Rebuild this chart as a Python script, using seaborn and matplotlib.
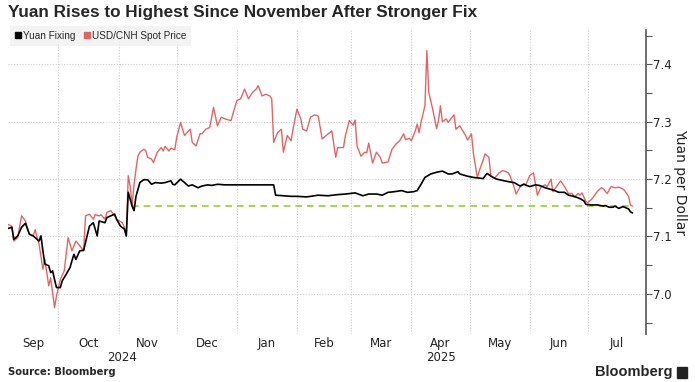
import pandas as pd
import seaborn as sns
import matplotlib.pyplot as plt
import matplotlib.dates as mdates
import matplotlib.ticker as tkr
import matplotlib.transforms as mtransforms
from matplotlib.lines import Line2D
from matplotlib.patches import Rectangle

# USD/CNH spot
spot_dates = [
    "2024-09-05", "2024-09-07", "2024-09-08", "2024-09-10", "2024-09-12", "2024-09-14",
    "2024-09-16", "2024-09-18", "2024-09-19", "2024-09-20", "2024-09-21", "2024-09-23",
    "2024-09-24", "2024-09-26", "2024-09-27", "2024-09-29", "2024-09-30", "2024-10-02",
    "2024-10-04", "2024-10-06", "2024-10-08", "2024-10-10", "2024-10-12", "2024-10-14",
    "2024-10-15", "2024-10-17", "2024-10-19", "2024-10-20", "2024-10-22", "2024-10-23",
    "2024-10-25", "2024-10-26", "2024-10-28", "2024-10-30", "2024-10-31", "2024-11-03",
    "2024-11-04", "2024-11-05", "2024-11-06", "2024-11-07", "2024-11-08", "2024-11-09",
    "2024-11-10", "2024-11-11", "2024-11-12", "2024-11-14", "2024-11-15", "2024-11-16",
    "2024-11-18", "2024-11-19", "2024-11-21", "2024-11-23", "2024-11-24", "2024-11-25",
    "2024-11-27", "2024-11-28", "2024-11-30", "2024-12-01", "2024-12-03", "2024-12-05",
    "2024-12-08", "2024-12-09", "2024-12-11", "2024-12-13", "2024-12-14", "2024-12-16",
    "2024-12-18", "2024-12-20", "2024-12-22", "2024-12-24", "2024-12-26", "2024-12-29",
    "2025-01-01", "2025-01-03", "2025-01-05", "2025-01-07", "2025-01-09", "2025-01-11",
    "2025-01-12", "2025-01-14", "2025-01-16", "2025-01-18", "2025-01-19", "2025-01-20",
    "2025-01-22", "2025-01-24", "2025-01-25", "2025-01-27", "2025-01-29", "2025-01-30",
    "2025-02-01", "2025-02-03", "2025-02-04", "2025-02-06", "2025-02-08", "2025-02-10",
    "2025-02-12", "2025-02-14", "2025-02-16", "2025-02-19", "2025-02-21", "2025-02-22",
    "2025-02-25", "2025-02-26", "2025-02-28", "2025-03-02", "2025-03-03", "2025-03-04",
    "2025-03-06", "2025-03-08", "2025-03-09", "2025-03-10", "2025-03-12", "2025-03-14",
    "2025-03-16", "2025-03-17", "2025-03-20", "2025-03-22", "2025-03-24", "2025-03-26",
    "2025-03-28", "2025-03-29", "2025-03-31", "2025-04-01", "2025-04-03", "2025-04-04",
    "2025-04-05", "2025-04-06", "2025-04-08", "2025-04-09", "2025-04-10", "2025-04-12",
    "2025-04-14", "2025-04-15", "2025-04-16", "2025-04-17", "2025-04-19", "2025-04-20",
    "2025-04-22", "2025-04-23", "2025-04-24", "2025-04-26", "2025-04-27", "2025-04-29",
    "2025-04-30", "2025-05-02", "2025-05-03", "2025-05-05", "2025-05-06", "2025-05-08",
    "2025-05-09", "2025-05-11", "2025-05-12", "2025-05-14", "2025-05-16", "2025-05-18",
    "2025-05-19", "2025-05-21", "2025-05-22", "2025-05-24", "2025-05-25", "2025-05-27",
    "2025-05-29", "2025-05-30", "2025-06-01", "2025-06-03", "2025-06-05", "2025-06-07",
    "2025-06-09", "2025-06-10", "2025-06-12", "2025-06-13", "2025-06-15", "2025-06-17",
    "2025-06-19", "2025-06-21", "2025-06-23", "2025-06-24", "2025-06-26", "2025-06-27",
    "2025-06-28", "2025-06-30", "2025-07-01", "2025-07-03", "2025-07-06", "2025-07-08",
    "2025-07-09", "2025-07-11", "2025-07-13", "2025-07-15", "2025-07-17", "2025-07-19",
    "2025-07-20", "2025-07-22", "2025-07-23", "2025-07-24",
]
spot_values = [
    7.121, 7.118, 7.092, 7.098, 7.136, 7.127,
    7.104, 7.101, 7.112, 7.098, 7.087, 7.043,
    7.060, 7.014, 7.028, 6.976, 6.996, 7.025,
    7.040, 7.098, 7.075, 7.092, 7.084, 7.075,
    7.136, 7.139, 7.130, 7.138, 7.136, 7.138,
    7.130, 7.142, 7.145, 7.136, 7.130, 7.124,
    7.116, 7.101, 7.206, 7.188, 7.153, 7.191,
    7.217, 7.240, 7.247, 7.252, 7.250, 7.238,
    7.235, 7.229, 7.247, 7.255, 7.249, 7.257,
    7.249, 7.254, 7.251, 7.273, 7.299, 7.276,
    7.287, 7.264, 7.258, 7.279, 7.279, 7.287,
    7.290, 7.325, 7.293, 7.308, 7.305, 7.302,
    7.337, 7.340, 7.357, 7.340, 7.351, 7.357,
    7.363, 7.345, 7.348, 7.345, 7.340, 7.264,
    7.281, 7.287, 7.247, 7.276, 7.267, 7.287,
    7.322, 7.305, 7.287, 7.284, 7.308, 7.312,
    7.310, 7.270, 7.276, 7.284, 7.238, 7.255,
    7.255, 7.276, 7.302, 7.294, 7.303, 7.258,
    7.240, 7.247, 7.246, 7.263, 7.228, 7.247,
    7.238, 7.228, 7.230, 7.252, 7.261, 7.267,
    7.279, 7.269, 7.271, 7.267, 7.284, 7.296,
    7.281, 7.299, 7.328, 7.424, 7.351, 7.322,
    7.288, 7.302, 7.328, 7.300, 7.305, 7.299,
    7.308, 7.312, 7.287, 7.293, 7.287, 7.276,
    7.268, 7.279, 7.245, 7.203, 7.214, 7.233,
    7.244, 7.238, 7.206, 7.202, 7.210, 7.215,
    7.214, 7.211, 7.205, 7.186, 7.174, 7.186,
    7.192, 7.190, 7.206, 7.211, 7.172, 7.187,
    7.190, 7.187, 7.200, 7.178, 7.188, 7.197,
    7.187, 7.175, 7.175, 7.168, 7.175, 7.172,
    7.176, 7.161, 7.159, 7.165, 7.179, 7.185,
    7.183, 7.175, 7.187, 7.185, 7.186, 7.183,
    7.180, 7.170, 7.155, 7.153,
]

# PBOC yuan fixing
fix_dates = [
    "2024-09-05", "2024-09-07", "2024-09-08", "2024-09-10", "2024-09-12", "2024-09-14",
    "2024-09-16", "2024-09-18", "2024-09-20", "2024-09-21", "2024-09-22", "2024-09-23",
    "2024-09-24", "2024-09-26", "2024-09-27", "2024-09-28", "2024-09-29", "2024-09-30",
    "2024-10-02", "2024-10-03", "2024-10-05", "2024-10-07", "2024-10-08", "2024-10-09",
    "2024-10-10", "2024-10-12", "2024-10-14", "2024-10-15", "2024-10-17", "2024-10-19",
    "2024-10-21", "2024-10-22", "2024-10-25", "2024-10-26", "2024-10-28", "2024-10-30",
    "2024-10-31", "2024-11-02", "2024-11-04", "2024-11-05", "2024-11-06", "2024-11-08",
    "2024-11-09", "2024-11-10", "2024-11-12", "2024-11-14", "2024-11-16", "2024-11-18",
    "2024-11-20", "2024-11-23", "2024-11-25", "2024-11-28", "2024-11-29", "2024-11-30",
    "2024-12-03", "2024-12-05", "2024-12-07", "2024-12-09", "2024-12-12", "2024-12-14",
    "2024-12-17", "2024-12-19", "2024-12-22", "2024-12-26", "2024-12-31", "2025-01-05",
    "2025-01-09", "2025-01-12", "2025-01-16", "2025-01-20", "2025-01-21", "2025-01-25",
    "2025-01-29", "2025-02-01", "2025-02-06", "2025-02-12", "2025-02-17", "2025-02-22",
    "2025-02-26", "2025-03-03", "2025-03-07", "2025-03-10", "2025-03-14", "2025-03-17",
    "2025-03-20", "2025-03-23", "2025-03-27", "2025-03-30", "2025-04-02", "2025-04-04",
    "2025-04-06", "2025-04-08", "2025-04-11", "2025-04-14", "2025-04-17", "2025-04-20",
    "2025-04-22", "2025-04-25", "2025-04-26", "2025-04-30", "2025-05-03", "2025-05-08",
    "2025-05-10", "2025-05-13", "2025-05-15", "2025-05-19", "2025-05-22", "2025-05-24",
    "2025-05-27", "2025-05-29", "2025-06-01", "2025-06-04", "2025-06-06", "2025-06-09",
    "2025-06-11", "2025-06-14", "2025-06-16", "2025-06-19", "2025-06-21", "2025-06-24",
    "2025-06-27", "2025-06-29", "2025-06-30", "2025-07-03", "2025-07-06", "2025-07-09",
    "2025-07-10", "2025-07-12", "2025-07-14", "2025-07-15", "2025-07-17", "2025-07-19",
    "2025-07-20", "2025-07-22", "2025-07-23", "2025-07-24",
]
fix_values = [
    7.114, 7.116, 7.095, 7.101, 7.116, 7.123,
    7.104, 7.101, 7.095, 7.092, 7.101, 7.075,
    7.052, 7.049, 7.037, 7.040, 7.025, 7.011,
    7.011, 7.023, 7.034, 7.046, 7.058, 7.069,
    7.060, 7.075, 7.076, 7.090, 7.118, 7.124,
    7.101, 7.127, 7.124, 7.133, 7.136, 7.139,
    7.130, 7.118, 7.113, 7.101, 7.177, 7.153,
    7.145, 7.170, 7.194, 7.199, 7.199, 7.191,
    7.194, 7.193, 7.194, 7.197, 7.191, 7.190,
    7.200, 7.194, 7.188, 7.190, 7.185, 7.188,
    7.190, 7.189, 7.191, 7.190, 7.190, 7.190,
    7.190, 7.190, 7.190, 7.190, 7.172, 7.171,
    7.170, 7.170, 7.169, 7.172, 7.171, 7.173,
    7.174, 7.176, 7.171, 7.174, 7.174, 7.172,
    7.177, 7.178, 7.180, 7.177, 7.178, 7.180,
    7.191, 7.203, 7.209, 7.212, 7.214, 7.209,
    7.209, 7.213, 7.209, 7.205, 7.203, 7.201,
    7.210, 7.203, 7.200, 7.197, 7.195, 7.194,
    7.188, 7.191, 7.187, 7.190, 7.189, 7.185,
    7.183, 7.180, 7.177, 7.177, 7.172, 7.170,
    7.166, 7.162, 7.156, 7.155, 7.155, 7.153,
    7.154, 7.151, 7.151, 7.153, 7.149, 7.152,
    7.151, 7.148, 7.143, 7.141,
]

# reference line: latest spot level, last seen in November
ref_start = "2024-11-08"
x_start, x_end = "2024-09-05", "2025-07-31"

RED = "#e06666"
GREEN = "#9acd32"
TXT = "#222222"

sns.set_style("white")
plt.rcParams["font.family"] = ["DejaVu Sans"]

spot = pd.DataFrame({"date": pd.to_datetime(spot_dates), "value": spot_values})
fix = pd.DataFrame({"date": pd.to_datetime(fix_dates), "value": fix_values})

fig = plt.figure(figsize=(6.95, 3.82), dpi=100)
ax = fig.add_axes([8 / 695, 1 - 334 / 382, 638 / 695, 304 / 382])

sns.lineplot(data=spot, x="date", y="value", color=RED, lw=1.0, ax=ax, zorder=3)
ax.plot(
    [pd.Timestamp(ref_start), spot["date"].iloc[-1]],
    [spot_values[-1], spot_values[-1]],
    color=GREEN, lw=1.2, ls=(0, (4, 3)), zorder=4,
)
sns.lineplot(data=fix, x="date", y="value", color="black", lw=1.2, ax=ax, zorder=5)

# x axis: gridlines at month starts, labels centred in each month
x0, x1 = pd.Timestamp(x_start), pd.Timestamp(x_end)
ax.set_xlim(x0, x1)
ax.xaxis.set_major_locator(mdates.MonthLocator())
ax.xaxis.set_major_formatter(tkr.NullFormatter())
months = pd.date_range(x0.to_period("M").to_timestamp(), x1, freq="MS")
mids, names = [], []
for m in months:
    a = max(m, x0)
    b = min(m + pd.offsets.MonthBegin(1), x1)
    mids.append(mdates.date2num(a + (b - a) / 2))
    names.append(m.strftime("%b"))
ax.xaxis.set_minor_locator(tkr.FixedLocator(mids))
ax.xaxis.set_minor_formatter(tkr.FixedFormatter(names))
ax.tick_params(axis="x", which="both", length=0, labelsize=8.5, labelcolor=TXT, pad=2)

trans = mtransforms.blended_transform_factory(ax.transData, ax.transAxes)
for yr in ["2024", "2025"]:
    a = max(pd.Timestamp(f"{yr}-01-01"), x0)
    b = min(pd.Timestamp(f"{int(yr) + 1}-01-01"), x1)
    ax.text(a + (b - a) / 2, -0.055, yr, transform=trans, ha="center", va="top",
            fontsize=8.5, color=TXT)

# y axis on the right
ax.set_ylim(6.93, 7.46)
ax.yaxis.tick_right()
ax.yaxis.set_major_locator(tkr.FixedLocator([7.0, 7.1, 7.2, 7.3, 7.4]))
ax.yaxis.set_minor_locator(tkr.FixedLocator([6.95, 7.05, 7.15, 7.25, 7.35, 7.45]))
ax.yaxis.set_major_formatter(tkr.FormatStrFormatter("%.1f"))
ax.tick_params(axis="y", which="both", direction="out", length=4, width=0.8,
               color="#555555", labelsize=8.5, labelcolor=TXT, pad=1)
ax.yaxis.set_label_position("right")
ax.set_ylabel("Yuan per Dollar", rotation=270, fontsize=10, color=TXT, labelpad=11)
ax.set_xlabel("")

ax.grid(True, which="major", axis="both", ls=(0, (1, 1.5)), color="#cfcfcf", lw=0.8)
for s in ["top", "left", "bottom"]:
    ax.spines[s].set_visible(False)
ax.spines["right"].set_color("#555555")
ax.spines["right"].set_linewidth(1.2)

handles = [
    Line2D([], [], marker="s", ls="", color="black", markersize=5),
    Line2D([], [], marker="s", ls="", color=RED, markersize=5),
]
leg = ax.legend(handles, ["Yuan Fixing", "USD/CNH Spot Price"], loc="upper left",
                bbox_to_anchor=(-0.004, 1.03), ncol=2, fontsize=7, frameon=True,
                handlelength=0.6, handletextpad=0.2, columnspacing=0.8,
                borderpad=0.5, fancybox=False,
                prop={"family": ["Liberation Sans", "DejaVu Sans"], "size": 7.2})
leg.get_frame().set_facecolor("#f0f0f0")
leg.get_frame().set_edgecolor("none")

fig.text(8 / 695, 1 - 13 / 382, "Yuan Rises to Highest Since November After Stronger Fix",
         fontsize=12.3, fontweight="bold", va="center", ha="left",
         family=["Liberation Sans", "DejaVu Sans"])
fig.text(8 / 695, 1 - 372 / 382, "Source: Bloomberg", fontsize=7.2,
         fontweight="bold", va="center", ha="left")
fig.text(672 / 695, 1 - 372 / 382, "Bloomberg", fontsize=10.5,
         fontweight="bold", va="center", ha="right",
         family=["Liberation Sans", "DejaVu Sans"])
fig.patches.append(Rectangle((677 / 695, 1 - 378 / 382), 10 / 695, 11 / 382,
                             transform=fig.transFigure, color="#222222"))

fig.savefig("out.png", dpi=100)
